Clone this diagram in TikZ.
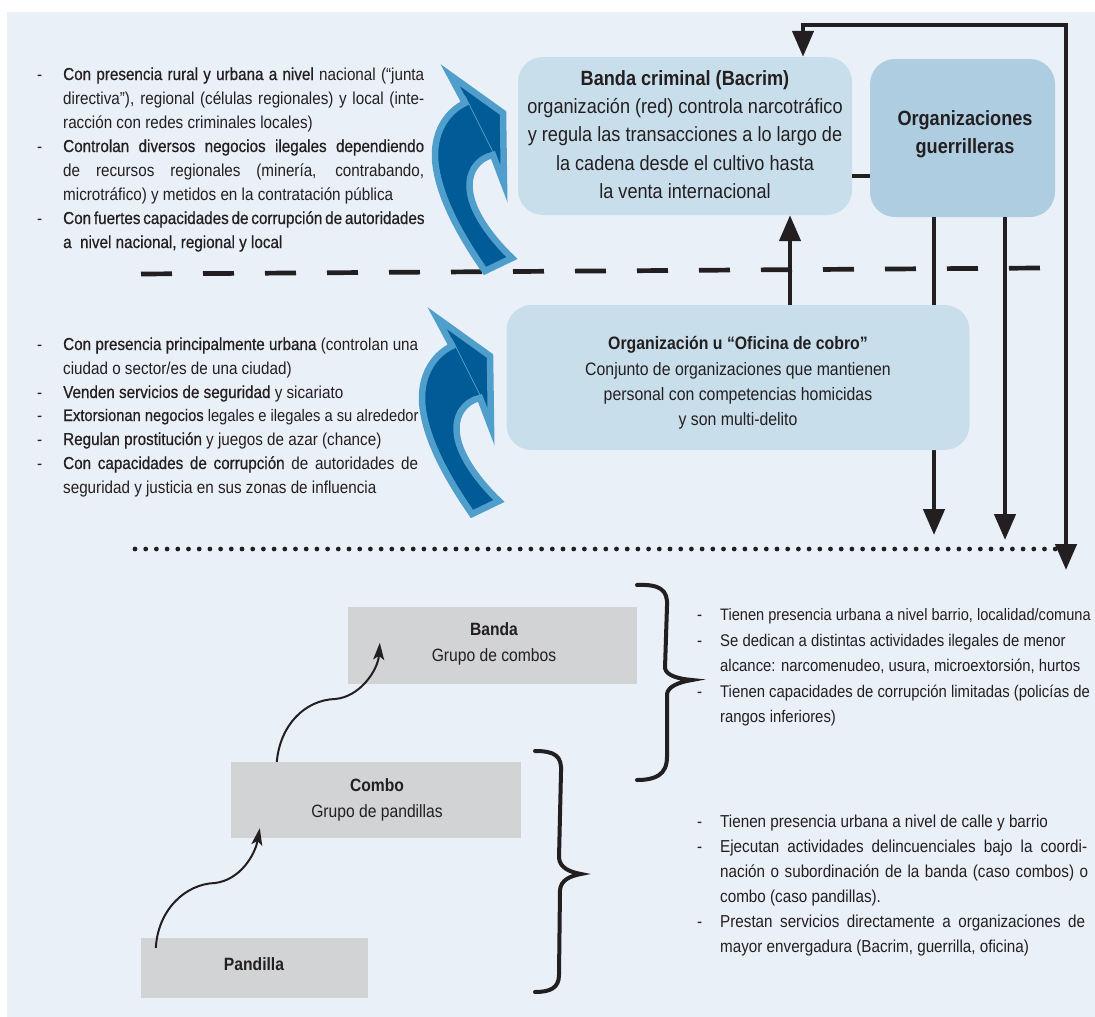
\documentclass[tikz,border=0pt]{standalone}
\usepackage{fontspec}
\setmainfont{Liberation Sans}[FakeStretch=0.88]
\newfontfamily\medf{Liberation Sans}[FakeStretch=0.88,FakeBold=0.6]
\usetikzlibrary{arrows.meta}
\definecolor{bgc}{HTML}{EAF0F7}
\definecolor{boxa}{HTML}{C9DEEB}
\definecolor{boxb}{HTML}{AECDE1}
\definecolor{grayb}{HTML}{D1D3D4}
\definecolor{ink}{HTML}{231F20}
\definecolor{darkblue}{HTML}{005B96}
\definecolor{lightblue}{HTML}{4F9ECB}
\newcommand\J[2]{\hbox to #1pt{#2}}
\tikzset{
  every node/.style={inner sep=0pt, text=ink},
  ln/.style={anchor=base west, font=\fontsize{17.3}{24}\selectfont},
  lnr/.style={anchor=base west, font=\fontsize{16.9}{24}\selectfont},
  bul/.style={anchor=base west, font=\fontsize{17.3}{24}\selectfont},
  ctr/.style={anchor=base, font=\fontsize{20.6}{28}\selectfont},
  ctrs/.style={anchor=base, font=\fontsize{18}{25}\selectfont},
  ctrg/.style={anchor=base, font=\fontsize{17.8}{25}\selectfont},
  bluebox/.style={rounded corners=25pt, fill=boxa},
  guerbox/.style={rounded corners=25pt, fill=boxb},
  graybox/.style={fill=grayb},
  conn/.style={draw=ink, line width=4.5pt, line join=miter},
  tri/.tip={Triangle[length=26pt, width=21pt]},
  wavy/.style={draw=ink, line width=2pt, -{Stealth[length=17pt, width=11pt, inset=4pt]}},
  brace/.style={draw=ink, line width=4pt, line cap=round},
  bluearrow/.style={fill=darkblue, draw=lightblue, line width=6.5pt, line join=miter},
}
\begin{document}
\begin{tikzpicture}[x=1pt,y=-1pt]
\useasboundingbox (0,0) rectangle (1095,1017);
\clip (0,0) rectangle (1095,1017);
\fill[white] (0,0) rectangle (1095,1017);
\fill[bgc] (7,12) rectangle (1095,1017);

% coordinates
\coordinate (topL) at (803,25);
\coordinate (topR) at (1066,25);
\coordinate (loopEnd) at (1066,570);
\coordinate (d1) at (934,535);
\coordinate (d2) at (1005,540);
\coordinate (vx) at (790,0);
\coordinate (c176) at (860,176);
\coordinate (dashL) at (141,274);
\coordinate (dashR) at (1040,268);
\coordinate (dotL) at (135,549);
\coordinate (dotR) at (1060,549);

% boxes (top)
\node[bluebox, minimum width=334pt, minimum height=158pt] (bacrim) at (685,136) {};
\node[guerbox, minimum width=185pt, minimum height=158pt] (guer) at (962.5,138) {};

% dashed and dotted separators
\draw[ink, line width=4.7pt, dash pattern=on 31pt off 31pt] (dashL) -- (dashR);
\draw[ink, line width=4.8pt, line cap=round, dash pattern=on 0pt off 10.7pt] (dotL) -- (dotR);

% connectors from guerrilla (pass behind oficina box)
\draw[conn, -tri] (guer.south -| d1) -- (d1);
\draw[conn, -tri] (guer.south -| d2) -- (d2);
\draw[conn] (bacrim.east |- c176) -- (guer.west |- c176);
\draw[conn, tri-tri] (bacrim.north -| topL) -- (topL) -- (topR) -- (loopEnd);

% oficina box
\node[bluebox, minimum width=463pt, minimum height=145pt] (ofi) at (738,377.5) {};
\draw[conn, -tri] (ofi.north -| vx) -- (bacrim.south -| vx);

% texts in boxes
\node[ctr] (bt1) at (685,85) {\bfseries Banda criminal (Bacrim)};
\node[ctr] (bt2) at (685,113) {organización (red) controla narcotráfico};
\node[ctr] (bt3) at (685,141) {y regula las transacciones a lo largo de};
\node[ctr] (bt4) at (685,170) {la cadena desde el cultivo hasta};
\node[ctr] (bt5) at (685,198) {la venta internacional};
\node[ctr] (gt1) at (965,125) {\bfseries Organizaciones};
\node[ctr] (gt2) at (965,153) {\bfseries guerrilleras};
\node[ctrs] (ot1) at (738,349) {\bfseries Organización u “Oficina de cobro”};
\node[ctrs] (ot2) at (738,375) {Conjunto de organizaciones que mantienen};
\node[ctrs] (ot3) at (738,400) {personal con competencias homicidas};
\node[ctrs] (ot4) at (738,425) {y son multi-delito};

% blue curved arrows
\path[bluearrow] (450,75) -- (503,113) -- (504,184) -- (493,155)
  .. controls (478,158) and (467,172) .. (470,192)
  .. controls (473,215) and (495,242) .. (512,258)
  -- (485,271)
  .. controls (462,238) and (437,195) .. (435,158)
  .. controls (434,128) and (450,110) .. (465,103)
  -- cycle;
\draw[lightblue, line width=0.8pt] (465,96) -- (497,160);
\begin{scope}[shift={(-13,243)}]
\path[bluearrow] (450,75) -- (503,113) -- (504,184) -- (493,155)
  .. controls (478,158) and (467,172) .. (470,192)
  .. controls (473,215) and (495,242) .. (512,258)
  -- (485,271)
  .. controls (462,238) and (437,195) .. (435,158)
  .. controls (434,128) and (450,110) .. (465,103)
  -- cycle;
\draw[lightblue, line width=0.8pt] (465,96) -- (497,160);
\end{scope}

% left block 1
\node[bul] (b1a) at (37,80) {-};
\node[bul] (b1b) at (37,152) {-};
\node[bul] (b1c) at (37,224) {-};
\node[ln] (l1a) at (63,80) {\J{361}{{\medf Con presencia rural y urbana a nivel} nacional (“junta}};
\node[ln] (l1b) at (63,104) {\J{361}{directiva”), regional (células regionales) y local (inte-}};
\node[ln] (l1c) at (63,128) {racción con redes criminales locales)};
\node[ln] (l1d) at (63,152) {\J{361}{\medf Controlan diversos negocios ilegales dependiendo}};
\node[ln] (l1e) at (63,176) {\J{361}{de recursos regionales (minería, contrabando,}};
\node[ln] (l1f) at (63,200) {microtráfico) y metidos en la contratación pública};
\node[ln] (l1g) at (63,224) {\J{361}{\medf Con fuertes capacidades de corrupción de autoridades}};
\node[ln] (l1h) at (63,248) {\medf a\ \ nivel nacional, regional y local};

% left block 2
\node[bul] (b2a) at (37,350) {-};
\node[bul] (b2b) at (37,398) {-};
\node[bul] (b2c) at (37,421) {-};
\node[bul] (b2d) at (37,445) {-};
\node[bul] (b2e) at (37,469) {-};
\node[ln] (l2a) at (63,350) {\J{355}{{\medf Con presencia principalmente urbana} (controlan una}};
\node[ln] (l2b) at (63,374) {ciudad o sector/es de una ciudad)};
\node[ln] (l2c) at (63,398) {{\medf Venden servicios de seguridad} y sicariato};
\node[ln, font=\fontsize{16.7}{24}\selectfont] (l2d) at (63,421) {{\medf Extorsionan negocios} legales e ilegales a su alrededor};
\node[ln] (l2e) at (63,445) {{\medf Regulan prostitución} y juegos de azar (chance)};
\node[ln] (l2f) at (63,469) {\J{355}{{\medf Con capacidades de corrupción} de autoridades de}};
\node[ln] (l2g) at (63,493) {seguridad y justicia en sus zonas de influencia};

% bottom boxes
\node[graybox, minimum width=289pt, minimum height=77pt] (banda) at (492.5,645.5) {};
\node[graybox, minimum width=290pt, minimum height=76pt] (combo) at (376,800) {};
\node[graybox, minimum width=227pt, minimum height=60pt] (pandilla) at (254.5,968) {};
\node[ctrg] (nt1) at (494,635) {\bfseries Banda};
\node[ctrg] (nt2) at (494,661) {Grupo de combos};
\node[ctrg] (nt3) at (377,791) {\bfseries Combo};
\node[ctrg] (nt4) at (377,817) {Grupo de pandillas};
\node[ctrg] (nt5) at (254,970) {\bfseries Pandilla};

% wavy arrows
\draw[wavy] ([shift={(15,10)}]pandilla.north west) .. controls (158,910) and (185,884) .. (215,883)
  .. controls (240,880) and (255,855) .. ([shift={(29,-10)}]combo.south west);
\draw[wavy] ([shift={(46,0)}]combo.north west) .. controls (280,725) and (305,700) .. (335,699)
  .. controls (360,697) and (378,670) .. ([shift={(32,36)}]banda.north west);

% braces
\draw[brace] (637,585) .. controls (660,584) and (668,590) .. (667,606) -- (665,668)
  .. controls (666,676) and (680,679) .. (692,680)
  .. controls (680,682) and (668,686) .. (667,694) -- (667,757)
  .. controls (667,775) and (655,780) .. (637,780);
\draw[brace] (535,751) .. controls (555,751) and (562,756) .. (561,772) -- (559,858)
  .. controls (560,868) and (570,872) .. (581,874)
  .. controls (570,876) and (561,880) .. (560,890) -- (559,975)
  .. controls (559,988) and (550,992) .. (535,992);

% right block upper
\node[bul] (b3a) at (697,620) {-};
\node[bul] (b3b) at (697,646) {-};
\node[bul] (b3c) at (697,697) {-};
\node[lnr, font=\fontsize{16.6}{24}\selectfont] (l3a) at (720,620) {Tienen presencia urbana a nivel barrio, localidad/comuna};
\node[lnr] (l3b) at (720,646) {Se dedican a distintas actividades ilegales de menor};
\node[lnr] (l3c) at (720,671) {alcance: narcomenudeo, usura, microextorsión, hurtos};
\node[lnr] (l3d) at (720,697) {Tienen capacidades de corrupción limitadas (policías de};
\node[lnr] (l3e) at (720,722) {rangos inferiores)};

% right block lower
\node[bul] (b4a) at (697,827) {-};
\node[bul] (b4b) at (697,852) {-};
\node[bul] (b4c) at (697,927) {-};
\node[ln] (l4a) at (720,827) {Tienen presencia urbana a nivel de calle y barrio};
\node[ln] (l4b) at (720,852) {\J{367}{Ejecutan actividades delincuenciales bajo la coordi-}};
\node[ln] (l4c) at (720,877) {\J{368}{nación o subordinación de la banda (caso combos) o}};
\node[ln] (l4d) at (720,902) {combo (caso pandillas).};
\node[ln] (l4e) at (720,927) {\J{365}{Prestan servicios directamente a organizaciones de}};
\node[ln] (l4f) at (720,952) {mayor envergadura (Bacrim, guerrilla, oficina)};
\end{tikzpicture}
\end{document}
